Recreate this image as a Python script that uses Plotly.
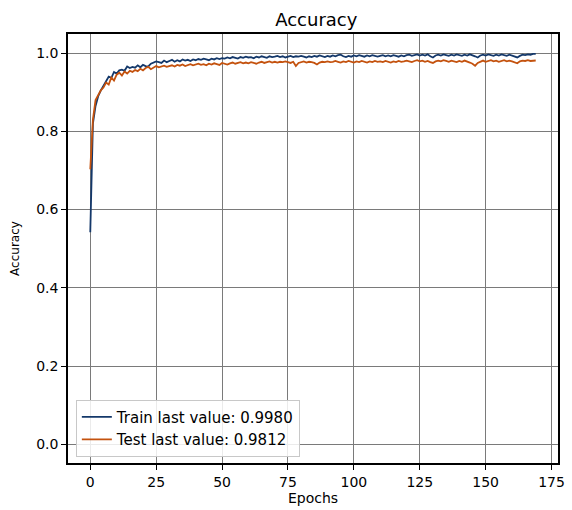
import plotly.graph_objects as go

epochs = list(range(170))

train_acc = [
    0.542, 0.820, 0.865, 0.890, 0.905, 0.915, 0.928, 0.940, 0.937, 0.952,
    0.948, 0.956, 0.958, 0.955, 0.966, 0.962, 0.965, 0.963, 0.969, 0.964,
    0.970, 0.967, 0.966, 0.973, 0.976, 0.979, 0.977, 0.975, 0.981, 0.977,
    0.980, 0.983, 0.978, 0.982, 0.979, 0.984, 0.981, 0.983, 0.980, 0.984,
    0.982, 0.985, 0.983, 0.986, 0.984, 0.982, 0.986, 0.984, 0.987, 0.985,
    0.987, 0.986, 0.989, 0.987, 0.990, 0.988, 0.986, 0.990, 0.988, 0.991,
    0.989, 0.990, 0.987, 0.991, 0.989, 0.992, 0.990, 0.988, 0.992, 0.990,
    0.991, 0.993, 0.990, 0.992, 0.989, 0.991, 0.993, 0.990, 0.992, 0.991,
    0.993, 0.991, 0.989, 0.992, 0.990, 0.993, 0.991, 0.994, 0.992, 0.990,
    0.993, 0.991, 0.994, 0.992, 0.995, 0.996, 0.992, 0.990, 0.993, 0.991,
    0.994, 0.992, 0.995, 0.993, 0.991, 0.994, 0.992, 0.995, 0.993, 0.991,
    0.993, 0.995, 0.992, 0.994, 0.992, 0.995, 0.993, 0.991, 0.994, 0.992,
    0.995, 0.996, 0.993, 0.995, 0.997, 0.994, 0.996, 0.994, 0.997, 0.992,
    0.989, 0.994, 0.996, 0.994, 0.997, 0.995, 0.993, 0.996, 0.994, 0.997,
    0.995, 0.993, 0.996, 0.994, 0.997, 0.995, 0.992, 0.989, 0.994, 0.996,
    0.994, 0.997, 0.995, 0.993, 0.996, 0.994, 0.997, 0.995, 0.993, 0.996,
    0.994, 0.992, 0.989, 0.993, 0.996, 0.995, 0.997, 0.996, 0.998, 0.998,
]

test_acc = [
    0.703, 0.830, 0.880, 0.892, 0.905, 0.912, 0.925, 0.920, 0.938, 0.930,
    0.945, 0.950, 0.943, 0.953, 0.948, 0.955, 0.952, 0.957, 0.954, 0.960,
    0.956, 0.962, 0.965, 0.959, 0.963, 0.967, 0.964, 0.966, 0.968, 0.965,
    0.967, 0.969, 0.966, 0.970, 0.968, 0.971, 0.967, 0.970, 0.972, 0.969,
    0.971, 0.973, 0.970, 0.972, 0.969, 0.973, 0.971, 0.974, 0.972, 0.970,
    0.975, 0.973, 0.971, 0.974, 0.976, 0.973, 0.975, 0.977, 0.974, 0.976,
    0.974, 0.977, 0.975, 0.973, 0.976, 0.978, 0.975, 0.977, 0.979, 0.976,
    0.978, 0.976, 0.978, 0.977, 0.979, 0.977, 0.975, 0.978, 0.967, 0.975,
    0.977, 0.979, 0.976, 0.978, 0.977, 0.975, 0.971, 0.976, 0.978, 0.977,
    0.979, 0.977, 0.978, 0.980, 0.978, 0.976, 0.979, 0.977, 0.980, 0.978,
    0.976, 0.979, 0.977, 0.980, 0.978, 0.976, 0.979, 0.977, 0.980, 0.978,
    0.979, 0.977, 0.980, 0.978, 0.976, 0.979, 0.977, 0.980, 0.978, 0.979,
    0.981, 0.979, 0.977, 0.980, 0.982, 0.979, 0.981, 0.978, 0.980, 0.977,
    0.975, 0.979, 0.981, 0.979, 0.982, 0.980, 0.978, 0.981, 0.979, 0.977,
    0.980, 0.978, 0.981, 0.979, 0.976, 0.973, 0.968, 0.975, 0.979, 0.981,
    0.978, 0.980, 0.982, 0.979, 0.981, 0.978, 0.980, 0.982, 0.979, 0.981,
    0.979, 0.976, 0.974, 0.979, 0.981, 0.980, 0.982, 0.980, 0.981, 0.9812,
]

train_last = 0.9980
test_last = 0.9812

x_ticks = [0, 25, 50, 75, 100, 125, 150, 175]
y_ticks = [0.0, 0.2, 0.4, 0.6, 0.8, 1.0]

FONT = "DejaVu Sans"

fig = go.Figure()
fig.add_trace(go.Scatter(
    x=epochs, y=train_acc, mode="lines",
    name=f"Train last value: {train_last:.4f}",
    line=dict(color="#14386a", width=1.8),
))
fig.add_trace(go.Scatter(
    x=epochs, y=test_acc, mode="lines",
    name=f"Test last value: {test_last:.4f}",
    line=dict(color="#c4520e", width=1.8),
))

axis_common = dict(
    showgrid=True, gridcolor="#7a7a7a", gridwidth=1.4,
    showline=True, linecolor="black", linewidth=1.5, mirror=True,
    ticks="outside", ticklen=5, tickwidth=1, tickcolor="black",
    tickfont=dict(family=FONT, size=14, color="black"),
    zeroline=False,
)

fig.update_layout(
    width=572, height=510,
    margin=dict(l=68, r=7, t=34, b=45),
    paper_bgcolor="white", plot_bgcolor="white",
    title=dict(text="Accuracy", x=0.553, xanchor="center", y=0.962, yanchor="middle",
               font=dict(family=FONT, size=18, color="black")),
    xaxis=dict(range=[-8.45, 177.45], tickvals=x_ticks,
               title=dict(text="Epochs", font=dict(family=FONT, size=14, color="black"), standoff=4),
               **axis_common),
    yaxis=dict(range=[-0.048, 1.049], tickvals=y_ticks, tickformat=".1f",
               title=dict(text="Accuracy", font=dict(family=FONT, size=12, color="black"), standoff=14),
               **axis_common),
    legend=dict(x=0.016, y=0.015, xanchor="left", yanchor="bottom",
                bgcolor="rgba(255,255,255,0.85)", bordercolor="#c8c8c8", borderwidth=1,
                font=dict(family=FONT, size=15, color="black"),
                tracegroupgap=0, itemwidth=30),
    showlegend=True,
)

fig.write_html("out.html")
